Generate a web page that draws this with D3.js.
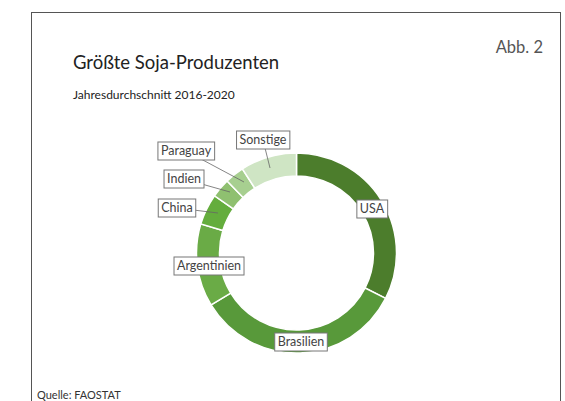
<!DOCTYPE html>
<html><head><meta charset="utf-8">
<script src="https://cdn.jsdelivr.net/npm/d3@7"></script>
<style>
html,body{margin:0;padding:0;background:#fff;}
svg{display:block;font-family:Lato,"Open Sans",sans-serif;}
</style></head>
<body>
<svg id="chart" width="565" height="401"></svg>
<script>
// ===== data =====
const laender = ["USA","Brasilien","Argentinien","China","Indien","Paraguay","Sonstige"];
const anteile = [32.5, 33.8, 13.4, 5.0, 3.1, 3.1, 9.1];
const farben  = ["#4c7d2c","#58993a","#6aab46","#64ad3d","#8fc070","#a7cf90","#cfe5c4"];
// label box centres (x,y) and leader line end in the ring
const labelPos = {
  USA:[372,209], Brasilien:[301,342], Argentinien:[209,266],
  China:[177,208], Indien:[184,179], Paraguay:[186,151], Sonstige:[263,140]
};
const leader = { China:[218,213], Indien:[230,192], Paraguay:[244,182], Sonstige:[270,168] };

const svg = d3.select("#chart");
const cx = 296.5, cy = 253, R = 100, r = 77;

// frame
svg.append("rect").attr("x",31.5).attr("y",12.5).attr("width",529).attr("height",420)
  .attr("fill","none").attr("stroke","#555").attr("stroke-width",1);

svg.append("text").attr("x",73).attr("y",69).attr("font-size","18.5px").attr("fill","#222")
  .text("Größte Soja-Produzenten");
svg.append("text").attr("x",73).attr("y",99).attr("font-size","12px").attr("fill","#222")
  .text("Jahresdurchschnitt 2016-2020");
svg.append("text").attr("x",543).attr("y",53).attr("text-anchor","end").attr("font-size","16.5px").attr("fill","#555")
  .text("Abb. 2");
svg.append("text").attr("x",37).attr("y",399).attr("font-size","11px").attr("fill","#333")
  .text("Quelle: FAOSTAT");

// ===== donut =====
const data = laender.map((n,i)=>({name:n, v:anteile[i], c:farben[i]}));
const pie = d3.pie().value(d=>d.v).sort(null);
const arc = d3.arc().innerRadius(r).outerRadius(R);
const g = svg.append("g").attr("transform",`translate(${cx},${cy})`);
g.selectAll("path").data(pie(data)).join("path")
  .attr("d",arc).attr("fill",d=>d.data.c)
  .attr("stroke","#fff").attr("stroke-width",1.5);

// ===== labels =====
const lg = svg.append("g");
data.forEach(d=>{
  const [x,y] = labelPos[d.name];
  if (leader[d.name]){
    const [lx,ly] = leader[d.name];
    lg.append("line").attr("x1",x).attr("y1",y).attr("x2",lx).attr("y2",ly)
      .attr("stroke","#666").attr("stroke-width",0.8);
  }
});
data.forEach(d=>{
  const [x,y] = labelPos[d.name];
  const t = lg.append("text").attr("x",x).attr("y",y+4.4).attr("text-anchor","middle")
    .attr("font-size","12.5px").attr("fill","#444").text(d.name);
  const bb = t.node().getBBox();
  lg.insert("rect", () => t.node())
    .attr("x",bb.x-3).attr("y",y-9).attr("width",bb.width+6).attr("height",18)
    .attr("fill","#fff").attr("stroke","#777").attr("stroke-width",1);
});
</script>
</body></html>
